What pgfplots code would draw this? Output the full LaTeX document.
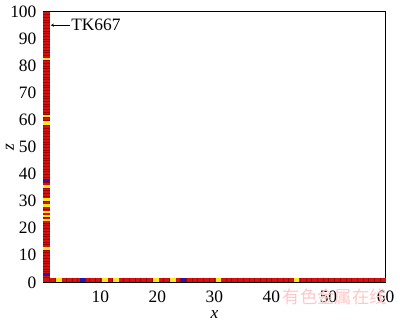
\documentclass[border=0pt]{standalone}
\usepackage{pgfplots}
\pgfplotsset{compat=1.18}
\usepackage{fontspec}
\setmainfont{Liberation Serif}
\newfontfamily\cjk{Noto Sans CJK SC}
\definecolor{cellred}{RGB}{212,16,16}
\definecolor{sepred}{RGB}{165,0,0}
\definecolor{cellyel}{RGB}{255,232,20}
\definecolor{cellblue}{RGB}{40,20,180}
\begin{document}
\fontsize{18}{21}\selectfont
\begin{tikzpicture}
\begin{axis}[
  scale only axis, width=354pt, height=280pt,
  xmin=0, xmax=60, ymin=0, ymax=100,
  xtick={10,20,...,60}, ytick={0,10,...,100},
  major tick length=0pt,
  /pgf/number format/assume math mode=true,
  xticklabel style={yshift=-3pt},
  yticklabel style={xshift=-1pt},
  xlabel={\textit{x}}, ylabel={\textit{z}},
  xlabel style={at={(axis description cs:0.5,-0.118)}, anchor=center},
  ylabel style={at={(axis description cs:-0.098,0.5)}, anchor=center},
  axis line style={line width=0.6pt},
  clip=false,
]
% vertical strip
\addplot[fill=cellred, draw=none] coordinates {(0,0)(1.1,0)(1.1,100)(0,100)} -- cycle;
\addplot[xcomb, sepred, line width=0.12pt] coordinates {
(1.1,1)(1.1,2)(1.1,3)(1.1,4)(1.1,5)(1.1,6)(1.1,7)(1.1,8)(1.1,9)(1.1,10)(1.1,11)(1.1,12)(1.1,13)(1.1,14)(1.1,15)(1.1,16)(1.1,17)(1.1,18)(1.1,19)(1.1,20)
(1.1,21)(1.1,22)(1.1,23)(1.1,24)(1.1,25)(1.1,26)(1.1,27)(1.1,28)(1.1,29)(1.1,30)(1.1,31)(1.1,32)(1.1,33)(1.1,34)(1.1,35)(1.1,36)(1.1,37)(1.1,38)(1.1,39)(1.1,40)
(1.1,41)(1.1,42)(1.1,43)(1.1,44)(1.1,45)(1.1,46)(1.1,47)(1.1,48)(1.1,49)(1.1,50)(1.1,51)(1.1,52)(1.1,53)(1.1,54)(1.1,55)(1.1,56)(1.1,57)(1.1,58)(1.1,59)(1.1,60)
(1.1,61)(1.1,62)(1.1,63)(1.1,64)(1.1,65)(1.1,66)(1.1,67)(1.1,68)(1.1,69)(1.1,70)(1.1,71)(1.1,72)(1.1,73)(1.1,74)(1.1,75)(1.1,76)(1.1,77)(1.1,78)(1.1,79)(1.1,80)
(1.1,81)(1.1,82)(1.1,83)(1.1,84)(1.1,85)(1.1,86)(1.1,87)(1.1,88)(1.1,89)(1.1,90)(1.1,91)(1.1,92)(1.1,93)(1.1,94)(1.1,95)(1.1,96)(1.1,97)(1.1,98)(1.1,99)};
% horizontal strip
\addplot[fill=cellred, draw=none] coordinates {(0,0)(60,0)(60,1.6)(0,1.6)} -- cycle;
\addplot[ycomb, sepred, line width=0.12pt] coordinates {
(1,1.6)(2,1.6)(3,1.6)(4,1.6)(5,1.6)(6,1.6)(7,1.6)(8,1.6)(9,1.6)(10,1.6)(11,1.6)(12,1.6)(13,1.6)(14,1.6)(15,1.6)(16,1.6)(17,1.6)(18,1.6)(19,1.6)(20,1.6)
(21,1.6)(22,1.6)(23,1.6)(24,1.6)(25,1.6)(26,1.6)(27,1.6)(28,1.6)(29,1.6)(30,1.6)(31,1.6)(32,1.6)(33,1.6)(34,1.6)(35,1.6)(36,1.6)(37,1.6)(38,1.6)(39,1.6)(40,1.6)
(41,1.6)(42,1.6)(43,1.6)(44,1.6)(45,1.6)(46,1.6)(47,1.6)(48,1.6)(49,1.6)(50,1.6)(51,1.6)(52,1.6)(53,1.6)(54,1.6)(55,1.6)(56,1.6)(57,1.6)(58,1.6)(59,1.6)};
% yellow cells, vertical
\addplot[fill=cellyel, draw=none] coordinates {(0,82)(1.1,82)(1.1,83)(0,83)} -- cycle;
\addplot[fill=cellyel, draw=none] coordinates {(0,61)(1.1,61)(1.1,62)(0,62)} -- cycle;
\addplot[fill=cellyel, draw=none] coordinates {(0,58)(1.1,58)(1.1,59.5)(0,59.5)} -- cycle;
\addplot[fill=cellyel, draw=none] coordinates {(0,35)(1.1,35)(1.1,36)(0,36)} -- cycle;
\addplot[fill=cellyel, draw=none] coordinates {(0,30)(1.1,30)(1.1,31)(0,31)} -- cycle;
\addplot[fill=cellyel, draw=none] coordinates {(0,28)(1.1,28)(1.1,29)(0,29)} -- cycle;
\addplot[fill=cellyel, draw=none] coordinates {(0,25.5)(1.1,25.5)(1.1,26.5)(0,26.5)} -- cycle;
\addplot[fill=cellyel, draw=none] coordinates {(0,24)(1.1,24)(1.1,25)(0,25)} -- cycle;
\addplot[fill=cellyel, draw=none] coordinates {(0,22.5)(1.1,22.5)(1.1,23.5)(0,23.5)} -- cycle;
\addplot[fill=cellyel, draw=none] coordinates {(0,12)(1.1,12)(1.1,13)(0,13)} -- cycle;
% blue cells, vertical
\addplot[fill=cellblue, draw=none] coordinates {(0,37)(1.1,37)(1.1,38)(0,38)} -- cycle;
\addplot[fill=cellblue, draw=none] coordinates {(0,2.5)(1.1,2.5)(1.1,3.5)(0,3.5)} -- cycle;
% yellow cells, horizontal
\addplot[fill=cellyel, draw=none] coordinates {(2.3,0)(3.3,0)(3.3,1.6)(2.3,1.6)} -- cycle;
\addplot[fill=cellyel, draw=none] coordinates {(10.3,0)(11.3,0)(11.3,1.6)(10.3,1.6)} -- cycle;
\addplot[fill=cellyel, draw=none] coordinates {(12.2,0)(13.2,0)(13.2,1.6)(12.2,1.6)} -- cycle;
\addplot[fill=cellyel, draw=none] coordinates {(19.3,0)(20.3,0)(20.3,1.6)(19.3,1.6)} -- cycle;
\addplot[fill=cellyel, draw=none] coordinates {(22.2,0)(23.2,0)(23.2,1.6)(22.2,1.6)} -- cycle;
\addplot[fill=cellyel, draw=none] coordinates {(30.2,0)(31.2,0)(31.2,1.6)(30.2,1.6)} -- cycle;
\addplot[fill=cellyel, draw=none] coordinates {(43.9,0)(44.9,0)(44.9,1.6)(43.9,1.6)} -- cycle;
% blue cells, horizontal
\addplot[fill=cellblue, draw=none] coordinates {(6.4,0)(7.4,0)(7.4,1.6)(6.4,1.6)} -- cycle;
\addplot[fill=cellblue, draw=none] coordinates {(24.1,0)(25.1,0)(25.1,1.6)(24.1,1.6)} -- cycle;
% annotation
\draw[-stealth, line width=0.5pt] (axis cs:4.6,95) -- (axis cs:1.3,95);
\node[anchor=west, inner sep=1pt] at (axis cs:4.7,95.2) {TK667};
\node[anchor=east, text=red!22, inner sep=0pt] at (axis cs:60.3,-5.3) {\cjk\fontsize{18}{19}\selectfont 有色金属在线};
\end{axis}
\end{tikzpicture}
\end{document}
